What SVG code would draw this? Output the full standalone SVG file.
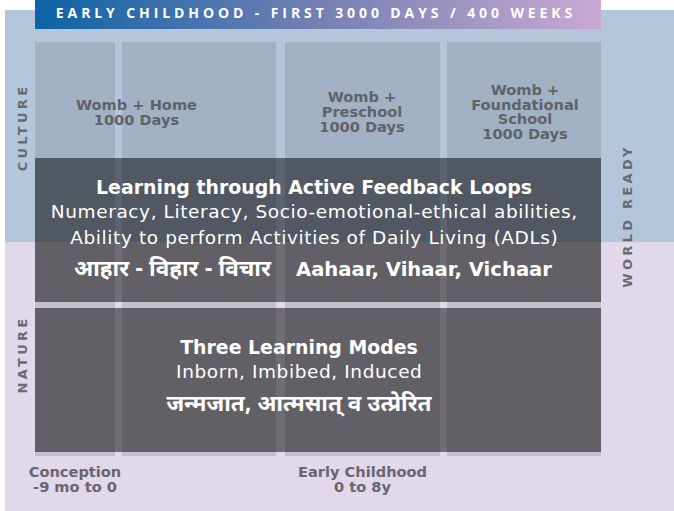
<svg xmlns="http://www.w3.org/2000/svg" width="674" height="511" viewBox="0 0 674 511">
  <defs>
    <linearGradient id="bannerGrad" x1="0" y1="0" x2="1" y2="0">
      <stop offset="0" stop-color="#0c63a6"/>
      <stop offset="0.5" stop-color="#7480b2"/>
      <stop offset="1" stop-color="#c9a9d2"/>
    </linearGradient>
  </defs>
  <style>
    .col { fill: #6e7480; fill-opacity: 0.25; }
    .dark { fill: #000; fill-opacity: 0.5; }
    .side { font-family: "DejaVu Sans", "Liberation Sans", sans-serif; font-weight: bold; font-size: 13px; fill: #6a6b70; letter-spacing: 3.3px; text-anchor: middle; }
    .collabel { font-family: "DejaVu Sans", "Liberation Sans", sans-serif; font-weight: bold; font-size: 14.6px; fill: #606369; text-anchor: middle; }
    .foot { font-family: "DejaVu Sans", "Liberation Sans", sans-serif; font-weight: bold; font-size: 14.6px; fill: #6a6670; text-anchor: middle; }
    .head { font-family: "DejaVu Sans", "Open Sans", sans-serif; font-weight: bold; font-size: 18.9px; fill: #ffffff; text-anchor: middle; }
    .light { font-family: "DejaVu Sans", "Open Sans", sans-serif; font-weight: normal; font-size: 18.5px; letter-spacing: 0.6px; fill: #ffffff; text-anchor: middle; }
    .deva { font-family: "Noto Sans Devanagari", "Lohit Devanagari", "FreeSans", "Noto Sans", sans-serif; font-weight: bold; font-size: 22.5px; fill: #ffffff; }
    .banner { font-family: "Open Sans", "Noto Sans", sans-serif; font-weight: bold; font-size: 14px; fill: #ffffff; letter-spacing: 3.9px; text-anchor: middle; }
  </style>

  <g id="background">
    <rect x="5" y="10" width="669" height="232" fill="#b4c6dc"/>
    <rect x="5" y="242" width="669" height="269" fill="#e1d8e9"/>
  </g>

  <g id="banner">
    <rect x="35" y="0" width="566" height="29" fill="url(#bannerGrad)"/>
    <text class="banner" x="316" y="18">EARLY CHILDHOOD - FIRST 3000 DAYS / 400 WEEKS</text>
  </g>

  <g id="columns">
    <rect class="col" x="35" y="42" width="80" height="414"/>
    <rect class="col" x="122" y="42" width="154" height="414"/>
    <rect class="col" x="285" y="42" width="155" height="414"/>
    <rect class="col" x="447" y="42" width="154" height="414"/>
  </g>

  <g id="col-home">
    <text class="collabel" x="136.5" y="110">Womb + Home</text>
    <text class="collabel" x="136.5" y="124.5">1000 Days</text>
  </g>
  <g id="col-preschool">
    <text class="collabel" x="362" y="102">Womb +</text>
    <text class="collabel" x="362" y="117">Preschool</text>
    <text class="collabel" x="362" y="132">1000 Days</text>
  </g>
  <g id="col-foundational">
    <text class="collabel" x="525" y="95">Womb +</text>
    <text class="collabel" x="525" y="109.5">Foundational</text>
    <text class="collabel" x="525" y="124">School</text>
    <text class="collabel" x="525" y="138.5">1000 Days</text>
  </g>

  <g id="feedback-loops">
    <rect class="dark" x="35" y="158" width="566" height="144"/>
    <text class="head" x="314" y="194">Learning through Active Feedback Loops</text>
    <text class="light" x="314.3" y="218">Numeracy, Literacy, Socio-emotional-ethical abilities,</text>
    <text class="light" x="314.3" y="244">Ability to perform Activities of Daily Living (ADLs)</text>
    <text class="deva" x="74" y="276">आहार - विहार - विचार</text>
    <text class="head" x="424" y="276" style="font-size:19.6px">Aahaar, Vihaar, Vichaar</text>
  </g>

  <g id="learning-modes">
    <rect class="dark" x="35" y="308" width="566" height="144"/>
    <text class="head" x="299" y="354">Three Learning Modes</text>
    <text class="light" x="299.3" y="378">Inborn, Imbibed, Induced</text>
    <text class="deva" x="299" y="411" text-anchor="middle">जन्मजात, आत्मसात् व उत्प्रेरित</text>
  </g>

  <g id="label-culture">
    <text class="side" transform="translate(27 127.5) rotate(-90)">CULTURE</text>
  </g>
  <g id="label-nature">
    <text class="side" transform="translate(27 354.5) rotate(-90)">NATURE</text>
  </g>
  <g id="label-world-ready">
    <text class="side" transform="translate(632 216) rotate(-90)">WORLD READY</text>
  </g>

  <g id="label-conception">
    <text class="foot" x="75" y="477">Conception</text>
    <text class="foot" x="75" y="492">-9 mo to 0</text>
  </g>
  <g id="label-early-childhood">
    <text class="foot" x="362.5" y="477">Early Childhood</text>
    <text class="foot" x="362.5" y="492">0 to 8y</text>
  </g>

  <g id="connectors"></g>
</svg>
